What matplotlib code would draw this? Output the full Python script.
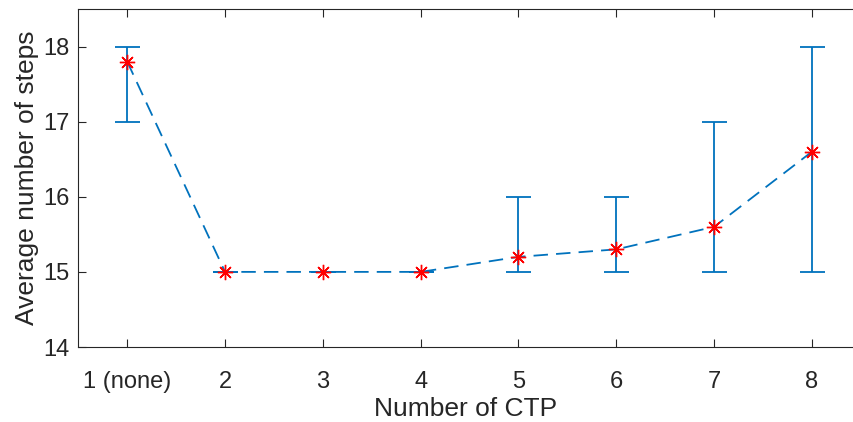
import matplotlib
matplotlib.use("Agg")
import matplotlib.pyplot as plt
import numpy as np

plt.rcParams['font.family'] = ['Liberation Sans', 'DejaVu Sans']

# data
ctp = [1, 2, 3, 4, 5, 6, 7, 8]
tick_labels = ['1 (none)', '2', '3', '4', '5', '6', '7', '8']
avg_steps = [17.8, 15.0, 15.0, 15.0, 15.2, 15.3, 15.6, 16.6]
min_steps = [17, 15, 15, 15, 15, 15, 15, 15]
max_steps = [18, 15, 15, 15, 16, 16, 17, 18]

avg = np.array(avg_steps)
yerr = [avg - np.array(min_steps), np.array(max_steps) - avg]

blue = '#0072BD'
dark = '#262626'

fig = plt.figure(figsize=(8.54, 4.22), dpi=100)
ax = fig.add_axes([78.3 / 854, 1 - 347 / 422, (853 - 78.3) / 854, (347 - 9) / 422])

ax.errorbar(ctp, avg, yerr=yerr, fmt='none', ecolor=blue, elinewidth=1.3,
            capsize=9, capthick=1.3)
ax.plot(ctp, avg, color=blue, linestyle=(0, (8, 4.5)), linewidth=1.3)
ax.plot(ctp, avg, linestyle='none', marker=(8, 2, 0), markersize=11,
        markeredgecolor='red', markeredgewidth=1.0, color='red')

ax.set_xlim(0.5, 8.42)
ax.set_ylim(14, 18.5)
ax.set_xticks(ctp)
ax.set_xticklabels(tick_labels)
ax.set_yticks([14, 15, 16, 17, 18])

ax.spines['right'].set_visible(False)
for s in ['top', 'left', 'bottom']:
    ax.spines[s].set_color(dark)
    ax.spines[s].set_linewidth(0.8)
ax.tick_params(direction='in', length=6, width=0.8, color=dark,
               labelcolor=dark, labelsize=17, top=True, right=False)
ax.tick_params(axis='x', pad=17)
ax.tick_params(axis='y', pad=6)

ax.set_xlabel('Number of CTP', fontsize=19, color=dark, labelpad=3)
ax.set_ylabel('Average number of steps', fontsize=19, color=dark, labelpad=3)

fig.savefig('out.png', dpi=100)
